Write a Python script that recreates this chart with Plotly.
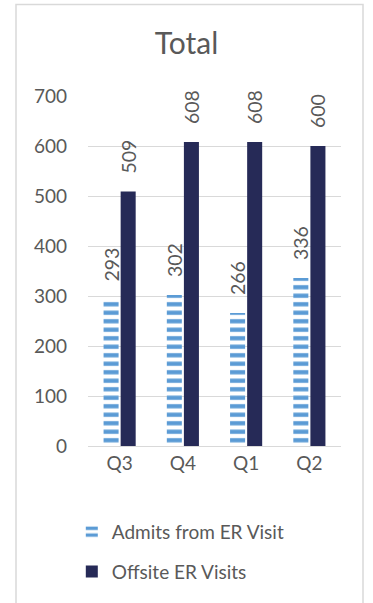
import plotly.graph_objects as go

categories = ["Q3", "Q4", "Q1", "Q2"]
admits = [293, 302, 266, 336]
offsite = [509, 608, 608, 600]
y_ticks = [0, 100, 200, 300, 400, 500, 600, 700]

FONT = "Lato"
GRAY = "#595959"
PAD = "\u00a0\u00a0\u00a0"

fig = go.Figure()
fig.add_trace(go.Bar(
    x=categories, y=admits, name="Admits from ER Visit",
    marker=dict(color="white", line=dict(width=0),
                pattern=dict(shape="-", fgcolor="#5B9BD5", bgcolor="white",
                             size=8.5, solidity=0.5, fillmode="replace")),
    text=[PAD + str(v) for v in admits], textposition="outside", textangle=-90,
    constraintext="none",
    textfont=dict(family=FONT, size=19.5, color=GRAY), cliponaxis=False,
    legendgroup="a",
))
fig.add_trace(go.Bar(
    x=categories, y=offsite, name="Offsite ER Visits",
    marker=dict(color="#262A57", line=dict(width=0)),
    text=[PAD + str(v) for v in offsite], textposition="outside", textangle=-90,
    constraintext="none",
    textfont=dict(family=FONT, size=19.5, color=GRAY), cliponaxis=False,
    legendgroup="b",
))

fig.update_layout(
    width=373, height=603,
    margin=dict(l=88, r=32, t=96, b=151),
    paper_bgcolor="white", plot_bgcolor="white",
    font=dict(family=FONT, color=GRAY, size=19),
    title=dict(text="Total", x=0.5, xanchor="center", y=1 - 43 / 603, yanchor="middle",
               font=dict(family=FONT, size=30, color=GRAY)),
    barmode="group", bargap=0.46, bargroupgap=0.12,
    showlegend=True,
    legend=dict(orientation="v", x=-0.064, xanchor="left", y=-0.191, yanchor="top",
                font=dict(family=FONT, size=19, color=GRAY),
                traceorder="grouped", tracegroupgap=12,
                itemwidth=30),
    yaxis=dict(range=[0, 700], tickvals=y_ticks, showgrid=True, gridcolor="#D9D9D9",
               gridwidth=1, zeroline=False, showline=False, ticks="",
               ticklabelstandoff=20, tickfont=dict(family=FONT, size=19, color=GRAY)),
    xaxis=dict(showline=True, linecolor="#D9D9D9", linewidth=1, ticks="",
               tickfont=dict(family=FONT, size=19, color=GRAY)),
    shapes=[dict(type="rect", xref="paper", yref="paper",
                 x0=(16 - 88) / 253, x1=(363 - 88) / 253,
                 y0=(452 - 620) / 356, y1=(452 - 3) / 356,
                 line=dict(color="#D9D9D9", width=1.5), layer="below")],
)

fig.write_html("out.html", config={"displayModeBar": False},
               post_script="document.body.style.margin='0';")
